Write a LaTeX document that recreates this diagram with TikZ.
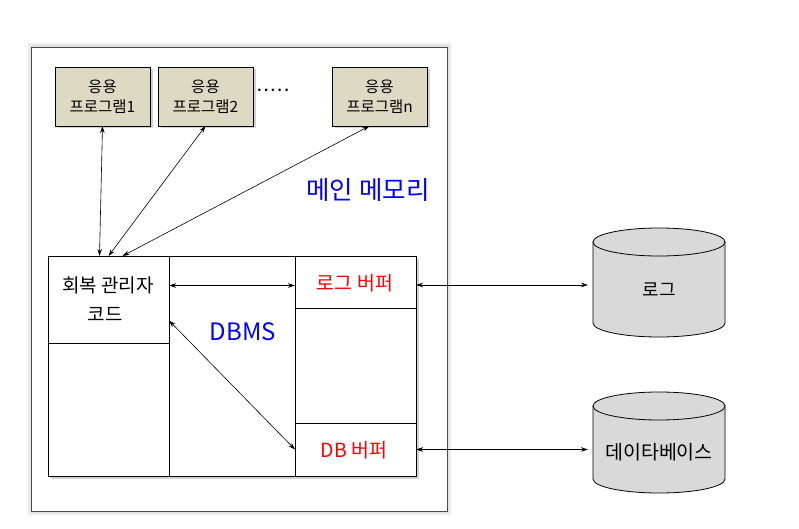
\documentclass[tikz,border=0pt]{standalone}
\usepackage{fontspec}
\setmainfont{Noto Sans CJK KR}
\usetikzlibrary{shadows,arrows.meta,calc}
\begin{document}
\begin{tikzpicture}[x=1pt,y=-1pt,
  every node/.style={inner sep=0pt,outer sep=0pt},
  appbox/.style={draw=black,line width=0.8pt,fill=appfill,minimum width=95pt,minimum height=59pt,
     align=center,font=\fontsize{15.5}{20}\selectfont,
     drop shadow={shadow xshift=2.5pt,shadow yshift=-2.5pt,opacity=0.35}},
  cell/.style={draw=black,line width=0.8pt},
  link/.style={line width=0.6pt,{Stealth[length=7pt,width=4.5pt]}-{Stealth[length=7pt,width=4.5pt]}},
  disk/.style={fill=diskfill,draw=black,line width=0.8pt},
  redtxt/.style={text=red,font=\fontsize{19.5}{22}\selectfont},
]
\definecolor{appfill}{HTML}{DDD9C3}
\definecolor{diskfill}{HTML}{D9D9D9}
\useasboundingbox (0,0) rectangle (799,529);

% outer memory frame with soft glow
\draw[line width=7pt,black!7] (31,47) rectangle (447,511);
\draw[line width=3pt,black!12] (31,47) rectangle (447,511);
\node[draw=black!70,line width=0.8pt,fill=white,minimum width=416pt,minimum height=464pt,anchor=north west] (mem) at (31,47) {};

% application programs
\node[appbox] (app1) at (102.5,96.5) {응용\\프로그램1};
\node[appbox] (app2) at (205.5,96.5) {응용\\프로그램2};
\node[appbox] (appn) at (379.5,96.5) {응용\\프로그램n};
\node[font=\bfseries\fontsize{12}{12}\selectfont] (dots) at (273,90) {.\hspace{2.6pt}.\hspace{2.6pt}.\hspace{2.6pt}.\hspace{2.6pt}.};

\node[text=blue,font=\fontsize{25.5}{28}\selectfont] (mm) at (368,190) {메인 메모리};

% DBMS box
\node[cell,fill=white,minimum width=368pt,minimum height=220pt,anchor=north west,
  drop shadow={shadow xshift=2.5pt,shadow yshift=-2.5pt,opacity=0.35}] (dbms) at (48,256) {};
\node[cell,minimum width=121pt,minimum height=87pt,anchor=north west] (rcm) at (48,256) {};
\node[cell,minimum width=121pt,minimum height=133pt,anchor=north west] (lowleft) at (48,343) {};
\node[cell,minimum width=126pt,minimum height=220pt,anchor=north west] (mid) at (169,256) {};
\node[cell,minimum width=121pt,minimum height=52pt,anchor=north west] (logbuf) at (295,256) {};
\node[cell,minimum width=121pt,minimum height=115pt,anchor=north west] (midright) at (295,308) {};
\node[cell,minimum width=121pt,minimum height=53pt,anchor=north west] (dbbuf) at (295,423) {};

\node[font=\fontsize{19}{22}\selectfont] (rcmt1) at (108,285) {회복 관리자};
\node[font=\fontsize{19}{22}\selectfont] (rcmt2) at (105,314) {코드};
\node[text=blue,font=\fontsize{24}{28}\selectfont] (dbmst) at (243,332) {DBMS};
\node[redtxt] (logbuft) at (355,283) {로그 버퍼};
\node[redtxt] (dbbuft) at (354,450) {DB 버퍼};

% disks
\node[minimum width=132pt,minimum height=109pt] (logdisk) at (659,282.5) {};
\node[minimum width=132pt,minimum height=101pt] (dbdisk) at (659,442.5) {};
\path[disk] (593,242) -- (593,323) arc[start angle=180,end angle=360,x radius=66pt,y radius=14pt] -- (725,242) -- cycle;
\draw[disk] (659,242) ellipse[x radius=66pt,y radius=14pt];
\path[disk] (593,406) -- (593,479) arc[start angle=180,end angle=360,x radius=66pt,y radius=14pt] -- (725,406) -- cycle;
\draw[disk] (659,406) ellipse[x radius=66pt,y radius=14pt];
\node[font=\fontsize{18}{20}\selectfont] (logt) at (659,290) {로그};
\node[font=\fontsize{19.5}{22}\selectfont] (dbt) at (659,452) {데이타베이스};

% connectors
\draw[link] (app1.south) -- ([xshift=-9pt]rcm.north);
\draw[link] (app2.south) -- (rcm.north);
\draw[link] ([xshift=-10pt]appn.south) -- ([xshift=14pt]rcm.north);
\draw[link] ([yshift=14pt]rcm.east) -- ([yshift=14pt]rcm.east -| logbuf.west);
\draw[link] ([yshift=-21pt]rcm.east) -- (dbbuf.west);
\draw[link,shorten >=5pt] ([yshift=-3pt]logbuf.east) -- ([yshift=-3pt]logbuf.east -| logdisk.west);
\draw[link,shorten >=5pt] (dbbuf.east) -- (dbbuf.east -| dbdisk.west);
\end{tikzpicture}
\end{document}
